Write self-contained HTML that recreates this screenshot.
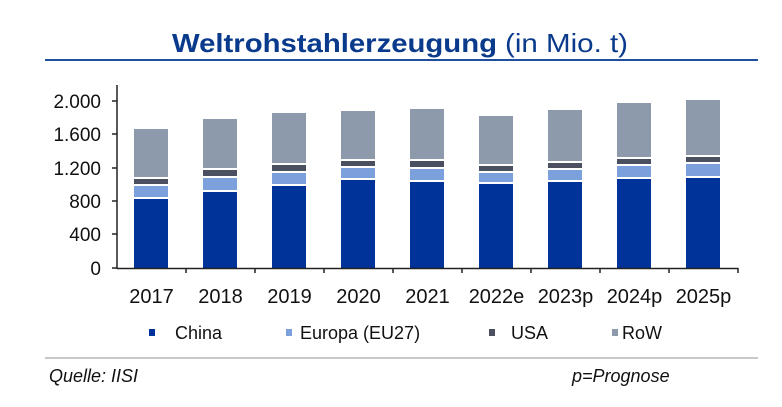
<!DOCTYPE html>
<html><head><meta charset="utf-8"><style>
html,body{margin:0;padding:0;background:#fff;}
svg{display:block;font-family:"Liberation Sans",sans-serif;}
</style></head><body>
<svg width="782" height="407" viewBox="0 0 782 407" xmlns="http://www.w3.org/2000/svg">
<text x="172" y="52" font-size="26" font-weight="bold" fill="#0a3a8c" textLength="325" lengthAdjust="spacingAndGlyphs">Weltrohstahlerzeugung</text>
<text x="505" y="52" font-size="26" fill="#0a3a8c" textLength="123" lengthAdjust="spacingAndGlyphs">(in Mio. t)</text>
<line x1="45" y1="60" x2="758" y2="60" stroke="#1f4e9c" stroke-width="2"/>
<g font-size="19" fill="#111" text-anchor="end">
<text x="101" y="108">2.000</text>
<text x="101" y="141">1.600</text>
<text x="101" y="175">1.200</text>
<text x="101" y="208">800</text>
<text x="101" y="241">400</text>
<text x="101" y="275">0</text>
</g>
<g fill="#003399">
<rect x="134" y="199" width="34" height="69"/><rect x="203" y="192" width="34" height="76"/><rect x="272" y="186" width="34" height="82"/><rect x="341" y="180" width="34" height="88"/><rect x="410" y="182" width="34" height="86"/><rect x="479" y="184" width="34" height="84"/><rect x="548" y="182" width="34" height="86"/><rect x="617" y="179" width="34" height="89"/><rect x="686" y="178" width="34" height="90"/>
</g>
<g fill="#7ba0db">
<rect x="134" y="186" width="34" height="11"/><rect x="203" y="178" width="34" height="12"/><rect x="272" y="173" width="34" height="11"/><rect x="341" y="168" width="34" height="10"/><rect x="410" y="169" width="34" height="11"/><rect x="479" y="173" width="34" height="9"/><rect x="548" y="170" width="34" height="10"/><rect x="617" y="166" width="34" height="11"/><rect x="686" y="164" width="34" height="12"/>
</g>
<g fill="#4a5060">
<rect x="134" y="179" width="34" height="5"/><rect x="203" y="170" width="34" height="6"/><rect x="272" y="165" width="34" height="6"/><rect x="341" y="161" width="34" height="5"/><rect x="410" y="161" width="34" height="6"/><rect x="479" y="166" width="34" height="5"/><rect x="548" y="163" width="34" height="5"/><rect x="617" y="159" width="34" height="5"/><rect x="686" y="157" width="34" height="5"/>
</g>
<g fill="#8c9aab">
<rect x="134" y="129" width="34" height="48"/><rect x="203" y="119" width="34" height="49"/><rect x="272" y="113" width="34" height="50"/><rect x="341" y="111" width="34" height="48"/><rect x="410" y="109" width="34" height="50"/><rect x="479" y="116" width="34" height="48"/><rect x="548" y="110" width="34" height="51"/><rect x="617" y="103" width="34" height="54"/><rect x="686" y="100" width="34" height="55"/>
</g>
<g stroke="#222" stroke-width="1.5">
<line x1="117" y1="85" x2="117" y2="269"/>
<line x1="117" y1="268.5" x2="738" y2="268.5"/>
<line x1="112" y1="101" x2="117" y2="101"/><line x1="112" y1="134" x2="117" y2="134"/><line x1="112" y1="168" x2="117" y2="168"/><line x1="112" y1="201" x2="117" y2="201"/><line x1="112" y1="234" x2="117" y2="234"/><line x1="112" y1="268" x2="117" y2="268"/>
<line x1="186" y1="268" x2="186" y2="273"/><line x1="255" y1="268" x2="255" y2="273"/><line x1="324" y1="268" x2="324" y2="273"/><line x1="393" y1="268" x2="393" y2="273"/><line x1="462" y1="268" x2="462" y2="273"/><line x1="531" y1="268" x2="531" y2="273"/><line x1="600" y1="268" x2="600" y2="273"/><line x1="669" y1="268" x2="669" y2="273"/><line x1="738" y1="268" x2="738" y2="273"/>
</g>
<g font-size="20" fill="#111" text-anchor="middle">
<text x="151.5" y="303">2017</text><text x="220.5" y="303">2018</text><text x="289.5" y="303">2019</text><text x="358.5" y="303">2020</text><text x="427.5" y="303">2021</text><text x="496.5" y="303">2022e</text><text x="565.5" y="303">2023p</text><text x="634.5" y="303">2024p</text><text x="703.5" y="303">2025p</text>
</g>
<g font-size="18" fill="#111">
<rect x="149" y="329" width="6" height="7" fill="#003399"/><text x="175" y="339">China</text>
<rect x="286" y="329" width="6" height="7" fill="#7ba0db"/><text x="300" y="339">Europa (EU27)</text>
<rect x="489" y="329" width="6" height="7" fill="#4a5060"/><text x="511" y="339">USA</text>
<rect x="612" y="329" width="6" height="7" fill="#8c9aab"/><text x="622" y="339">RoW</text>
</g>
<line x1="45" y1="358" x2="758" y2="358" stroke="#c8c8c8" stroke-width="2"/>
<g font-size="18" font-style="italic" fill="#111">
<text x="49" y="382">Quelle: IISI</text>
<text x="572" y="382">p=Prognose</text>
</g>
</svg>
</body></html>
